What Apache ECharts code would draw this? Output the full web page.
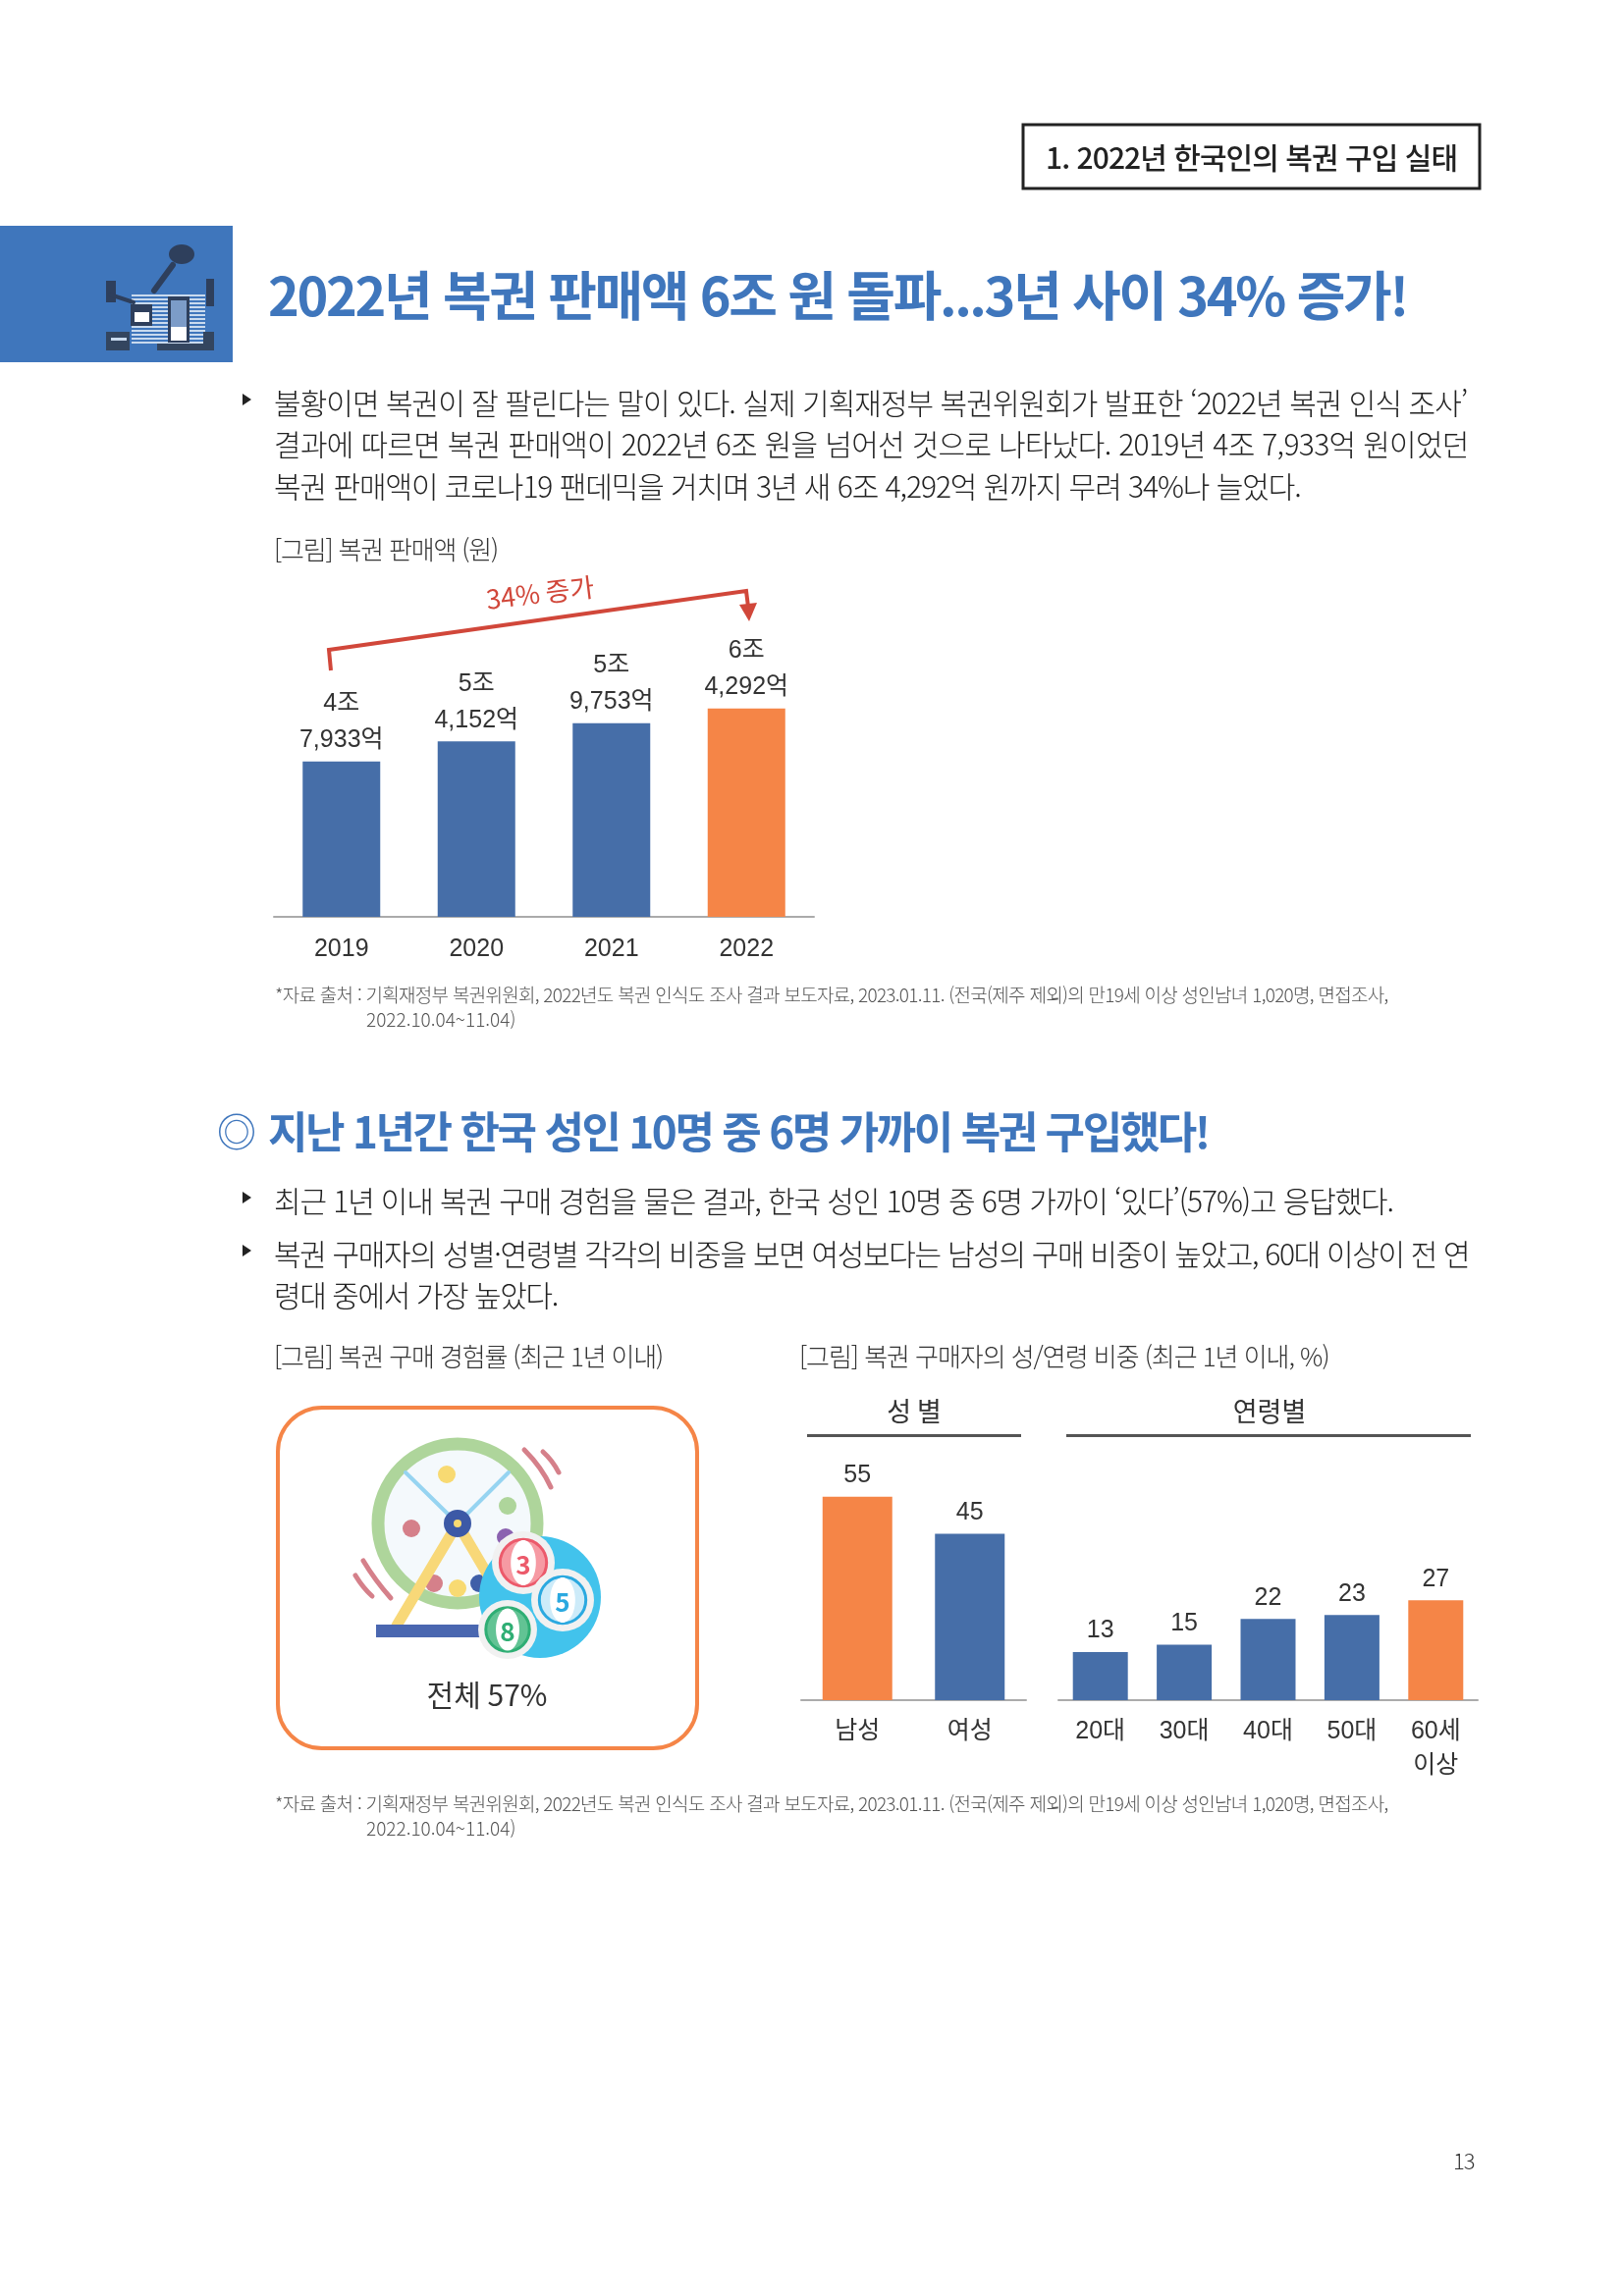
<!DOCTYPE html>
<html lang="ko">
<head>
<meta charset="utf-8">
<title>2022년 한국인의 복권 구입 실태</title>
<script src="https://cdn.jsdelivr.net/npm/echarts@6/dist/echarts.min.js"></script>
<style>
	html, body { margin: 0; padding: 0; background: #fff; }
	#page { position: relative; width: 1653px; height: 2339px; overflow: hidden; }
	#chart { position: absolute; left: 0; top: 0; width: 1653px; height: 2339px; }
	.line { position: absolute; white-space: pre; transform: translateY(-50%); font-family: "Noto Sans CJK KR", sans-serif; }
</style>
</head>
<body>
<div id="page"><div id="chart"></div></div>
<script>
const FONT = '"Noto Sans CJK KR", sans-serif'
const CHART_FONT = '"Liberation Sans", "Noto Sans CJK KR", sans-serif'
const BLUE = '#466EA8'
const ORANGE = '#F58547'
const RED = '#D1473A'
const TITLE_BLUE = '#3F76BC'

// chart data
const salesYears = ['2019', '2020', '2021', '2022']
const salesValues = [47933, 54152, 59753, 64292] // 억 원
const salesLabels = ['4조\n7,933억', '5조\n4,152억', '5조\n9,753억', '6조\n4,292억']
const salesColors = [BLUE, BLUE, BLUE, ORANGE]

const genderNames = ['남성', '여성']
const genderValues = [55, 45]
const genderColors = [ORANGE, BLUE]

const ageNames = ['20대', '30대', '40대', '50대', '60세\n이상']
const ageValues = [13, 15, 22, 23, 27]
const ageColors = [BLUE, BLUE, BLUE, BLUE, ORANGE]

// text, x, center y, fitted width, size, weight, colour
const pageLines = [
	['1. 2022년 한국인의 복권 구입 실태', 1065, 159, 419, 30, 500, '#222'],
	['2022년 복권 판매액 6조 원 돌파...3년 사이 34% 증가!', 273, 298, 1160, 54, 700, TITLE_BLUE],
	['불황이면 복권이 잘 팔린다는 말이 있다. 실제 기획재정부 복권위원회가 발표한 ‘2022년 복권 인식 조사’', 279, 409, 1215, 30, 300, '#222'],
	['결과에 따르면 복권 판매액이 2022년 6조 원을 넘어선 것으로 나타났다. 2019년 4조 7,933억 원이었던', 279, 451, 1217, 30, 300, '#222'],
	['복권 판매액이 코로나19 팬데믹을 거치며 3년 새 6조 4,292억 원까지 무려 34%나 늘었다.', 279, 494, 1046, 30, 300, '#222'],
	['[그림] 복권 판매액 (원)', 279, 558, 228, 26, 300, '#333'],
	['*자료 출처 : 기획재정부 복권위원회, 2022년도 복권 인식도 조사 결과 보도자료, 2023.01.11. (전국(제주 제외)의 만19세 이상 성인남녀 1,020명, 면접조사,', 280, 1012, 1134, 19, 300, '#555'],
	['2022.10.04~11.04)', 373, 1037, 152, 19, 300, '#555'],
	['◎', 221, 1151, 40, 40, 400, TITLE_BLUE],
	['지난 1년간 한국 성인 10명 중 6명 가까이 복권 구입했다!', 273, 1151, 958, 44, 700, TITLE_BLUE],
	['최근 1년 이내 복권 구매 경험을 물은 결과, 한국 성인 10명 중 6명 가까이 ‘있다’(57%)고 응답했다.', 279, 1222, 1140, 30, 300, '#222'],
	['복권 구매자의 성별·연령별 각각의 비중을 보면 여성보다는 남성의 구매 비중이 높았고, 60대 이상이 전 연', 279, 1276, 1217, 30, 300, '#222'],
	['령대 중에서 가장 높았다.', 279, 1318, 289, 30, 300, '#222'],
	['[그림] 복권 구매 경험률 (최근 1년 이내)', 279, 1380, 396, 26, 300, '#333'],
	['[그림] 복권 구매자의 성/연령 비중 (최근 1년 이내, %)', 814, 1380, 540, 26, 300, '#333'],
	['*자료 출처 : 기획재정부 복권위원회, 2022년도 복권 인식도 조사 결과 보도자료, 2023.01.11. (전국(제주 제외)의 만19세 이상 성인남녀 1,020명, 면접조사,', 280, 1836, 1134, 19, 300, '#555'],
	['2022.10.04~11.04)', 373, 1861, 152, 19, 300, '#555'],
	['13', 1480, 2200, 22, 22, 300, '#333']
]

const page = document.getElementById('page')
pageLines.forEach(([text, x, y, width, size, weight, color]) => {
	const el = document.createElement('div')
	el.className = 'line'
	el.textContent = text
	el.style.cssText = `left:${x}px;top:${y}px;font-size:${size}px;font-weight:${weight};color:${color}`
	page.appendChild(el)
	// squeeze each line to the measured width of the original
	el.style.letterSpacing = (width - el.offsetWidth) / text.length + 'px'
})

function barSeries(gridIndex, values, colors, labels, size) {
	return {
		type: 'bar',
		xAxisIndex: gridIndex,
		yAxisIndex: gridIndex,
		barWidth: size,
		silent: true,
		data: values.map((value, i) => ({ value, itemStyle: { color: colors[i] } })),
		label: {
			show: true,
			position: 'top',
			distance: 3,
			fontFamily: CHART_FONT,
			fontSize: 25,
			lineHeight: 37,
			color: '#333',
			formatter: p => labels ? labels[p.dataIndex] : String(p.value)
		}
	}
}

function catAxis(gridIndex, names, margin) {
	return {
		type: 'category',
		gridIndex,
		data: names,
		axisTick: { show: false },
		axisLine: { lineStyle: { color: '#ABABAB', width: 2 } },
		axisLabel: { fontFamily: CHART_FONT, fontSize: 25, lineHeight: 35, color: '#333', margin, interval: 0 }
	}
}

function valAxis(gridIndex, max) {
	return { type: 'value', gridIndex, min: 0, max, show: false, splitLine: { show: false } }
}

// small helpers for the drawn pictures
const dot = (cx, cy, r, fill) => ({ type: 'circle', shape: { cx, cy, r }, style: { fill } })
const rect = (x, y, width, height, fill) => ({ type: 'rect', shape: { x, y, width, height }, style: { fill } })
const stroke = (x1, y1, x2, y2, color, lineWidth) => ({
	type: 'line',
	shape: { x1, y1, x2, y2 },
	style: { stroke: color, lineWidth, lineCap: 'round' }
})
const curve = (x1, y1, cpx1, cpy1, x2, y2) => ({
	type: 'bezierCurve',
	shape: { x1, y1, cpx1, cpy1, x2, y2 },
	style: { stroke: '#D5808A', lineWidth: 5, lineCap: 'round', fill: 'none' }
})
const label = (text, x, y, fontSize, fill, extra) => ({
	type: 'text',
	x,
	y,
	style: { text, fontSize, fontFamily: FONT, fill, align: 'center', verticalAlign: 'middle', ...extra }
})
const bullet = y => ({ type: 'polygon', shape: { points: [[247, y - 6], [256, y], [247, y + 6]] }, style: { fill: '#222' } })

function numberBall(cx, cy, r, color, soft, digit) {
	return [
		dot(cx, cy, r, '#F1F1F1'),
		{ type: 'circle', shape: { cx, cy, r: r * 0.74 }, style: { fill: soft, stroke: color, lineWidth: 3 } },
		{ type: 'ellipse', shape: { cx, cy, rx: r * 0.4, ry: r * 0.72 }, style: { fill: '#FFFFFF' } },
		label(digit, cx, cy + 2, 26, color, { fontWeight: 700 })
	]
}

const iconStripes = []
for (let y = 300; y < 350; y += 4) {
	iconStripes.push(rect(134, y, 75, 2, '#C9DAEE'))
}

const headerIcon = [
	rect(0, 230, 237, 139, '#3F76BC'),
	...iconStripes,
	{ type: 'ellipse', shape: { cx: 185, cy: 259, rx: 13, ry: 10 }, style: { fill: '#2E3F5C' } },
	stroke(176, 270, 157, 296, '#2E3F5C', 6),
	rect(108, 286, 10, 22, '#2E3F5C'),
	stroke(112, 300, 136, 308, '#2E3F5C', 4),
	rect(210, 284, 8, 28, '#2E3F5C'),
	rect(133, 310, 22, 22, '#2E3F5C'),
	rect(137, 318, 15, 10, '#FFFFFF'),
	rect(171, 302, 22, 47, '#2E3F5C'),
	rect(174, 306, 16, 27, '#7C9CC8'),
	rect(174, 333, 16, 14, '#FFFFFF'),
	rect(108, 338, 24, 19, '#33455F'),
	rect(113, 344, 16, 3, '#C9DAEE'),
	rect(160, 350, 58, 7, '#33455F'),
	rect(207, 338, 11, 12, '#33455F')
]

const lotteryPicture = [
	{ type: 'circle', shape: { cx: 466, cy: 1552, r: 81 }, style: { fill: '#F4F9FC', stroke: '#AED59B', lineWidth: 13 } },
	stroke(466, 1552, 413, 1500, '#96D4F1', 4),
	stroke(466, 1552, 518, 1500, '#96D4F1', 4),
	dot(455, 1502, 9, '#F8DA72'),
	dot(517, 1534, 9, '#AED59B'),
	dot(419, 1557, 9, '#D5808A'),
	dot(515, 1566, 9, '#8B62B0'),
	dot(442, 1613, 9, '#D5808A'),
	dot(466, 1618, 9, '#F8DA72'),
	dot(488, 1613, 9, '#3F5FA8'),
	stroke(466, 1552, 404, 1656, '#F8D878', 11),
	stroke(466, 1552, 506, 1620, '#F8D878', 11),
	rect(383, 1655, 130, 13, '#4A67B0'),
	dot(466, 1552, 14, '#3C59A6'),
	dot(466, 1552, 4, '#F8DA72'),
	curve(534, 1477, 552, 1495, 561, 1515),
	curve(553, 1479, 563, 1488, 569, 1500),
	curve(370, 1590, 382, 1610, 398, 1628),
	curve(362, 1605, 370, 1618, 379, 1626),
	dot(550, 1627, 62, '#42C3EC'),
	...numberBall(533, 1592, 32, '#EC5A6B', '#F69AA3', '3'),
	...numberBall(573, 1630, 32, '#2BA9E0', '#CDEBF9', '5'),
	...numberBall(517, 1660, 30, '#2FAE74', '#62C394', '8')
]

const annotation = [
	{
		type: 'polyline',
		shape: { points: [[337, 683], [335, 662], [760, 602], [762, 618]] },
		style: { stroke: RED, lineWidth: 4, fill: 'none' }
	},
	{ type: 'polygon', shape: { points: [[753, 616], [771, 614], [763, 633]] }, style: { fill: RED } },
	{ ...label('34% 증가', 550, 604, 27, RED), rotation: 7 * Math.PI / 180 }
]

const chart = echarts.init(document.getElementById('chart'))
chart.setOption({
	animation: false,
	grid: [
		{ left: 279, top: 703, width: 550, height: 231 },
		{ left: 816, top: 1506, width: 229, height: 226 },
		{ left: 1078, top: 1506, width: 427, height: 226 }
	],
	xAxis: [
		catAxis(0, salesYears, 16),
		catAxis(1, genderNames, 15),
		catAxis(2, ageNames, 15)
	],
	yAxis: [valAxis(0, 70000), valAxis(1, 60), valAxis(2, 60)],
	series: [
		barSeries(0, salesValues, salesColors, salesLabels, 79),
		barSeries(1, genderValues, genderColors, null, 71),
		barSeries(2, ageValues, ageColors, null, 56)
	],
	graphic: {
		elements: [
			{ type: 'rect', shape: { x: 1042, y: 127, width: 465, height: 65 }, style: { fill: 'none', stroke: '#222', lineWidth: 3 } },
			...headerIcon,
			bullet(407),
			bullet(1220),
			bullet(1274),
			...annotation,
			{ type: 'rect', shape: { x: 283, y: 1434, width: 427, height: 347, r: 45 }, style: { fill: 'none', stroke: ORANGE, lineWidth: 4 } },
			...lotteryPicture,
			label('전체 57%', 496, 1727, 30, '#333'),
			label('성 별', 931, 1438, 27, '#333'),
			label('연령별', 1293, 1438, 27, '#333'),
			rect(822, 1461, 218, 3, '#555'),
			rect(1086, 1461, 412, 3, '#555')
		]
	}
})
</script>
</body>
</html>
